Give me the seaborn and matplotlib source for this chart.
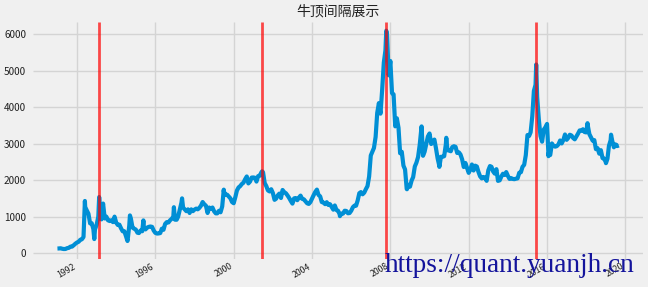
import numpy as np
import pandas as pd
import matplotlib
matplotlib.use("Agg")
import matplotlib.pyplot as plt
import matplotlib.dates as mdates
import seaborn as sns

# ---- data (Shanghai Composite, month-end closes) ----
start_month = "1990-12"
monthly_close = [
    127,
    129, 134, 120, 113, 115, 137, 145, 180, 180, 218, 259, 292,            # 1991
    313, 365, 380, 443, 1266, 1170, 1080, 815, 820, 660, 650, 780,         # 1992
    1000, 1320, 925, 1358, 950, 1000, 900, 880, 900, 850, 1000, 833,       # 1993
    770, 780, 680, 600, 600, 470, 340, 750, 950, 700, 670, 647,            # 1994
    560, 550, 620, 600, 700, 650, 700, 720, 730, 720, 620, 555,            # 1995
    537, 540, 550, 670, 640, 800, 850, 840, 900, 940, 1000, 917,           # 1996
    915, 1000, 1200, 1380, 1250, 1200, 1150, 1200, 1100, 1200, 1150, 1194, # 1997
    1220, 1200, 1240, 1300, 1400, 1340, 1300, 1100, 1250, 1210, 1250, 1146,# 1998
    1090, 1090, 1160, 1120, 1280, 1690, 1600, 1600, 1550, 1500, 1400, 1367,# 1999
    1535, 1714, 1800, 1836, 1894, 1928, 2023, 2100, 1910, 1961, 2070, 2073,# 2000
    2065, 1960, 2110, 2120, 2214, 2218, 1920, 1834, 1717, 1690, 1750, 1646,# 2001
    1460, 1490, 1580, 1630, 1510, 1730, 1670, 1640, 1580, 1510, 1430, 1357,# 2002
    1500, 1510, 1450, 1520, 1576, 1487, 1476, 1421, 1367, 1348, 1397, 1497,# 2003
    1590, 1675, 1740, 1595, 1555, 1399, 1386, 1342, 1396, 1320, 1340, 1266,# 2004
    1191, 1306, 1181, 1159, 1060, 1080, 1083, 1162, 1155, 1092, 1099, 1161,# 2005
    1258, 1299, 1298, 1440, 1641, 1672, 1612, 1658, 1752, 1837, 2099, 2675,# 2006
    2786, 2881, 3183, 3841, 4109, 3820, 4471, 5218, 5552, 5954, 4871, 5262,# 2007
    4383, 4348, 3473, 3693, 3433, 2736, 2775, 2397, 2293, 1760, 1871, 1821,# 2008
    1991, 2082, 2373, 2477, 2633, 2959, 3412, 2667, 2779, 2996, 3195, 3277,# 2009
    2989, 3051, 3110, 2871, 2592, 2398, 2638, 2639, 2656, 2979, 2820, 2808,# 2010
    2791, 2905, 2928, 2911, 2743, 2762, 2701, 2568, 2359, 2469, 2333, 2199,# 2011
    2292, 2428, 2263, 2396, 2373, 2225, 2103, 2047, 2086, 2069, 1980, 2269,# 2012
    2385, 2365, 2237, 2178, 2300, 1979, 1994, 2098, 2175, 2141, 2220, 2116,# 2013
    2033, 2056, 2033, 2026, 2039, 2048, 2202, 2217, 2364, 2420, 2683, 3235,# 2014
    3210, 3310, 3748, 4442, 4612, 4277, 3664, 3206, 3053, 3383, 3445, 3539,# 2015
    2738, 2688, 3004, 2938, 2917, 2930, 2979, 3085, 3005, 3100, 3250, 3104,# 2016
    3159, 3242, 3223, 3155, 3117, 3192, 3273, 3361, 3349, 3393, 3317, 3307,# 2017
    3481, 3259, 3169, 3082, 3095, 2847, 2876, 2725, 2821, 2603, 2588, 2494,# 2018
    2585, 2941, 3091, 3078, 2899, 2979, 2932, 2950,                        # 2019
]

# intra-month highs / lows visible in the chart
extreme_dates = [
    "1992-05-26", "1992-11-17", "1993-02-16", "1994-07-29", "1994-09-13",
    "1995-05-22", "1996-12-11", "1997-05-12", "1999-06-29", "2001-06-13",
    "2005-06-03", "2007-10-16", "2008-11-04", "2009-08-04", "2010-07-02",
    "2010-11-08", "2015-06-12", "2016-01-28", "2018-01-24", "2019-01-03",
    "2019-04-08",
]
extreme_values = [
    1429, 386, 1536, 333, 1033,
    897, 1258, 1500, 1739, 2242,
    1013, 6092, 1750, 3471, 2363,
    3159, 5166, 2656, 3559, 2464,
    3244,
]

# bull-market tops marked with red lines
peak_dates = ["1993-02-16", "2001-06-14", "2007-10-16", "2015-06-12"]

title_text = "牛顶间隔展示"
watermark = "https://quant.yuanjh.cn"

# ---- build table ----
monthly = pd.DataFrame({
    "date": pd.date_range(start=start_month, periods=len(monthly_close), freq="ME"),
    "close": monthly_close,
})
extra = pd.DataFrame({"date": pd.to_datetime(extreme_dates), "close": extreme_values})
df = pd.concat([monthly, extra]).sort_values("date").reset_index(drop=True)

# ---- style ----
plt.style.use("fivethirtyeight")
plt.rcParams["font.family"] = ["Noto Sans CJK SC", "DejaVu Sans"]
plt.rcParams["axes.unicode_minus"] = False

fig = plt.figure(figsize=(6.48, 2.87), dpi=100)
fig.patch.set_facecolor("#f0f0f0")
ax = fig.add_axes([33 / 648, 1 - 259 / 287, 610 / 648, 237 / 287])
ax.set_facecolor("#f0f0f0")

sns.lineplot(data=df, x="date", y="close", ax=ax, color="#008fd5",
             linewidth=3.0, zorder=3)

for d in peak_dates:
    ax.axvline(pd.Timestamp(d), color="red", alpha=0.7, linewidth=2.0, zorder=4)

ax.set_ylim(-160, 6330)
ax.set_xlim(pd.Timestamp("1989-10-01"), pd.Timestamp("2020-11-24"))
ax.set_yticks([0, 1000, 2000, 3000, 4000, 5000, 6000])
ax.xaxis.set_major_locator(mdates.YearLocator(4))
ax.xaxis.set_major_formatter(mdates.DateFormatter("%Y"))
ax.grid(True, color="#d4d4d4", linewidth=1.0)
ax.set_axisbelow(True)
for s in ax.spines.values():
    s.set_visible(False)
ax.tick_params(axis="y", labelsize=7.2, pad=5, length=0, colors="#222222")
ax.tick_params(axis="x", labelsize=6.3, pad=2, length=0, colors="#222222")
for lbl in ax.get_xticklabels():
    lbl.set_rotation(30)
    lbl.set_ha("right")
ax.set_xlabel("")
ax.set_ylabel("")
ax.set_title(title_text, fontsize=10, pad=5, color="#222222")

fig.text(385 / 648, 1 - 272 / 287, watermark, fontsize=19.6,
         family=["Liberation Serif", "DejaVu Serif"], color="#14149c",
         ha="left", va="baseline", zorder=10)

fig.savefig("out.png", dpi=100, facecolor=fig.get_facecolor())
